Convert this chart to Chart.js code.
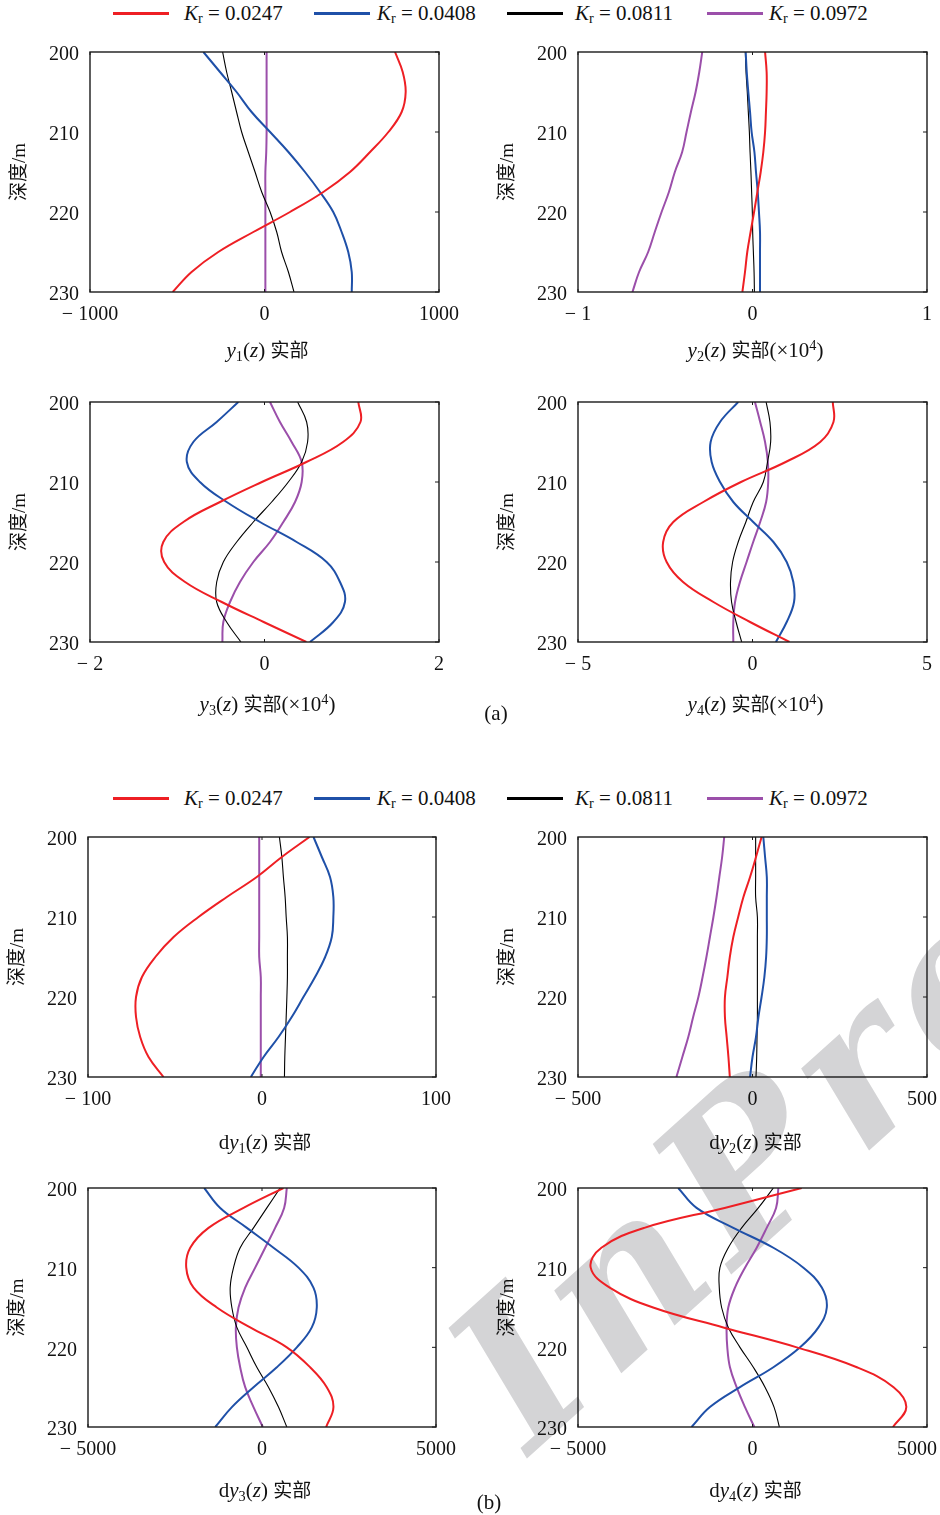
<!DOCTYPE html>
<html>
<head>
<meta charset="utf-8">
<script src="https://cdn.jsdelivr.net/npm/chart.js@4.4.1/dist/chart.umd.min.js"></script>
<style>
body { margin: 0; background: #fff; }
#page { position: relative; width: 940px; height: 1515px; overflow: hidden; font-family: "Liberation Serif", serif; color: #111; }
canvas { position: absolute; z-index: 2; }
.txt { position: absolute; white-space: nowrap; font-size: 21px; transform: translate(-50%, -50%); z-index: 3; }
.txt .cjk { font-family: "Noto Sans CJK SC", sans-serif; font-size: 19px; }
.txt sub { font-size: 0.68em; vertical-align: -0.25em; }
.txt sup { font-size: 0.68em; vertical-align: 0.5em; }
.legline { position: absolute; height: 3px; z-index: 3; }
.legtxt { position: absolute; white-space: nowrap; font-size: 21px; transform: translateY(-50%); z-index: 3; }
.legtxt sub { font-size: 0.68em; vertical-align: -0.25em; font-style: normal; }
#wm { position: absolute; z-index: 1; left: 414px; top: 1326px; font: italic bold 205px "DejaVu Serif", serif; line-height: 1; color: #d4d4d6; transform-origin: 0 0; transform: rotate(-42deg); letter-spacing: 15px; }
</style>
</head>
<body>
<div id="page">
  <div id="wm">InPre</div>
</div>
<script>
"use strict";

const depths = [200, 202.5, 205, 207.5, 210, 212.5, 215, 217.5, 220, 222.5, 225, 227.5, 230];
const krLabels = ["0.0247", "0.0408", "0.0811", "0.0972"];
const krColors = ["#ee1f24", "#1f50a8", "#000000", "#9b4faa"];
const krWidths = [2, 2, 1.1, 2];

// y1(z) real part
const y1Red    = [748, 792, 809, 786, 710, 605, 490, 337, 146, -64, -265, -418, -526];
const y1Blue   = [-350, -255, -160, -74, 32, 137, 232, 318, 394, 442, 480, 500, 500];
const y1Black  = [-240, -217, -188, -160, -131, -93, -54, -16, 32, 70, 98, 137, 169];
const y1Purple = [12, 12, 12, 12, 12, 10, 5, 5, 5, 5, 5, 5, 5];

// y2(z) real part (x1e4)
const y2Red    = [0.072, 0.081, 0.081, 0.077, 0.072, 0.062, 0.047, 0.028, 0.009, -0.011, -0.030, -0.043, -0.058];
const y2Blue   = [-0.039, -0.033, -0.024, -0.014, -0.005, 0.011, 0.020, 0.030, 0.037, 0.043, 0.043, 0.043, 0.043];
const y2Black  = [-0.041, -0.037, -0.030, -0.024, -0.018, -0.014, -0.009, -0.005, -0.001, 0.001, 0.005, 0.009, 0.011];
const y2Purple = [-0.288, -0.305, -0.326, -0.353, -0.378, -0.403, -0.445, -0.479, -0.521, -0.560, -0.598, -0.650, -0.688];

// y3(z) real part (x1e4)
const y3Red    = [1.075, 1.10, 0.90, 0.48, -0.03, -0.51, -0.93, -1.16, -1.15, -0.91, -0.49, -0.01, 0.48];
const y3Blue   = [-0.30, -0.548, -0.816, -0.89, -0.74, -0.434, -0.052, 0.368, 0.712, 0.865, 0.922, 0.789, 0.521];
const y3Black  = [0.38, 0.483, 0.494, 0.426, 0.273, 0.082, -0.128, -0.319, -0.472, -0.548, -0.548, -0.434, -0.27];
const y3Purple = [0.063, 0.177, 0.311, 0.426, 0.426, 0.35, 0.216, 0.063, -0.128, -0.281, -0.395, -0.472, -0.483];

// y4(z) real part (x1e4)
const y4Red    = [2.30, 2.32, 1.94, 0.95, -0.33, -1.41, -2.27, -2.56, -2.46, -1.99, -1.12, -0.07, 1.06];
const y4Blue   = [-0.41, -0.93, -1.20, -1.17, -0.93, -0.55, 0.02, 0.60, 0.98, 1.17, 1.19, 0.98, 0.67];
const y4Black  = [0.39, 0.50, 0.52, 0.43, 0.31, 0.02, -0.19, -0.41, -0.57, -0.63, -0.60, -0.47, -0.31];
const y4Purple = [0.07, 0.22, 0.36, 0.44, 0.45, 0.39, 0.22, 0.02, -0.17, -0.36, -0.50, -0.55, -0.55];

// dy1(z) real part
const dy1Red    = [27.3, 11.4, -3.0, -20.2, -36.5, -50.8, -61.3, -69.0, -72.4, -72.4, -70, -65.2, -56.6];
const dy1Blue   = [29.6, 34.4, 39.1, 41.0, 41.0, 40.1, 36.3, 30.5, 23.8, 17.1, 9.5, 0.9, -6.4];
const dy1Black  = [10.0, 11.4, 12.3, 13.3, 13.9, 14.6, 14.6, 14.6, 14.3, 13.9, 13.5, 13.1, 12.9];
const dy1Purple = [-1.6, -1.6, -1.6, -1.6, -1.6, -1.6, -1.6, -0.7, -0.7, -0.7, -0.7, -0.7, -0.7];

// dy2(z) real part
const dy2Red    = [26, 10, -7, -26, -41, -55, -65, -72, -79, -79, -74, -69, -65];
const dy2Blue   = [31, 36, 41, 41, 41, 41, 39, 34, 26, 17, 10, 0, -7];
const dy2Black  = [9, 9, 9, 9, 14, 14, 14, 14, 14, 14, 13, 12, 10];
const dy2Purple = [-81, -87, -95, -103, -112, -122, -132, -143, -155, -170, -184, -201, -218];

// dy3(z) real part
const dy3Red    = [617, -531, -1536, -2062, -2177, -1967, -1297, -340, 713, 1383, 1861, 2053, 1842];
const dy3Blue   = [-1660, -1201, -435, 330, 1048, 1478, 1574, 1431, 1000, 426, -244, -866, -1344];
const dy3Black  = [522, 139, -244, -627, -818, -914, -866, -722, -435, -148, 187, 474, 713];
const dy3Purple = [713, 636, 378, 91, -196, -483, -675, -751, -722, -627, -483, -244, 24];

// dy4(z) real part
const dy4Red    = [1411, -800, -3100, -4330, -4636, -4091, -2847, -837, 1268, 2990, 4043, 4407, 4024];
const dy4Blue   = [-2129, -1603, -550, 598, 1459, 1986, 2129, 1890, 1364, 598, -359, -1220, -1746];
const dy4Black  = [598, 167, -311, -694, -933, -952, -885, -694, -359, 24, 359, 617, 770];
const dy4Purple = [742, 675, 407, 120, -215, -502, -694, -742, -722, -646, -455, -215, 53];

const xLimits = [1000, 1, 2, 5, 100, 500, 5000, 5000];

const panels = [
    { series: [y1Red, y1Blue, y1Black, y1Purple], left: 90, top: 52, w: 349, h: 240, ty: 350,
      title: '<i>y</i><sub>1</sub>(<i>z</i>) <span class="cjk">实部</span>' },
    { series: [y2Red, y2Blue, y2Black, y2Purple], left: 578, top: 52, w: 349, h: 240, ty: 350,
      title: '<i>y</i><sub>2</sub>(<i>z</i>) <span class="cjk">实部</span>(×10<sup>4</sup>)' },
    { series: [y3Red, y3Blue, y3Black, y3Purple], left: 90, top: 402, w: 349, h: 240, ty: 704,
      title: '<i>y</i><sub>3</sub>(<i>z</i>) <span class="cjk">实部</span>(×10<sup>4</sup>)' },
    { series: [y4Red, y4Blue, y4Black, y4Purple], left: 578, top: 402, w: 349, h: 240, ty: 704,
      title: '<i>y</i><sub>4</sub>(<i>z</i>) <span class="cjk">实部</span>(×10<sup>4</sup>)' },
    { series: [dy1Red, dy1Blue, dy1Black, dy1Purple], left: 88, top: 837, w: 348, h: 240, ty: 1142,
      title: 'd<i>y</i><sub>1</sub>(<i>z</i>) <span class="cjk">实部</span>' },
    { series: [dy2Red, dy2Blue, dy2Black, dy2Purple], left: 578, top: 837, w: 349, h: 240, ty: 1142,
      title: 'd<i>y</i><sub>2</sub>(<i>z</i>) <span class="cjk">实部</span>' },
    { series: [dy3Red, dy3Blue, dy3Black, dy3Purple], left: 88, top: 1188, w: 348, h: 239, ty: 1490,
      title: 'd<i>y</i><sub>3</sub>(<i>z</i>) <span class="cjk">实部</span>' },
    { series: [dy4Red, dy4Blue, dy4Black, dy4Purple], left: 578, top: 1188, w: 349, h: 239, ty: 1490,
      title: 'd<i>y</i><sub>4</sub>(<i>z</i>) <span class="cjk">实部</span>' }
];

const page = document.getElementById("page");

// box round the plot area, with small inward ticks on top, bottom and right
const framePlugin = {
    id: "frame",
    afterDraw(chart) {
        const { ctx, chartArea: a } = chart;
        const x = chart.scales.x, y = chart.scales.y;
        ctx.save();
        ctx.strokeStyle = "#1a1a1a";
        ctx.lineWidth = 1.4;
        ctx.strokeRect(a.left, a.top, a.right - a.left, a.bottom - a.top);
        ctx.lineWidth = 1;
        ctx.beginPath();
        y.ticks.forEach(t => {
            const py = y.getPixelForValue(t.value);
            ctx.moveTo(a.right, py); ctx.lineTo(a.right - 4, py);
        });
        x.ticks.forEach(t => {
            const px = x.getPixelForValue(t.value);
            ctx.moveTo(px, a.top); ctx.lineTo(px, a.top + 3);
            ctx.moveTo(px, a.bottom); ctx.lineTo(px, a.bottom - 3);
        });
        ctx.stroke();
        ctx.restore();
    }
};

function fmt(v) {
    return v < 0 ? "\u2212 " + Math.abs(v) : String(v);
}

function addText(html, x, y, cls) {
    const d = document.createElement("div");
    d.className = cls || "txt";
    d.style.left = x + "px";
    d.style.top = y + "px";
    d.innerHTML = html;
    page.appendChild(d);
}

panels.forEach((p, i) => {
    const padTop = 15, padRight = 22, axisW = 90, axisH = 75;
    const canvas = document.createElement("canvas");
    canvas.width = axisW + p.w + padRight;
    canvas.height = padTop + p.h + axisH;
    canvas.style.left = (p.left - axisW) + "px";
    canvas.style.top = (p.top - padTop) + "px";
    page.appendChild(canvas);

    const lim = xLimits[i];
    // right column: last label pushed left so it stays inside the page
    const tail = i % 2 === 1 ? (lim >= 1000 ? "    " : lim >= 100 ? "  " : "") : "";
    new Chart(canvas.getContext("2d"), {
        type: "scatter",
        data: {
            datasets: p.series.map((vals, k) => ({
                label: "Kr = " + krLabels[k],
                data: vals.map((v, j) => ({ x: v, y: depths[j] })),
                showLine: true,
                borderColor: krColors[k],
                borderWidth: krWidths[k],
                pointRadius: 0,
                tension: 0.4,
                fill: false
            }))
        },
        options: {
            responsive: false,
            animation: false,
            layout: { padding: { top: padTop, right: padRight, bottom: 0, left: 0 } },
            plugins: { legend: { display: false }, tooltip: { enabled: false } },
            scales: {
                x: {
                    type: "linear",
                    min: -lim, max: lim,
                    grid: { display: false, drawTicks: false },
                    border: { display: false },
                    ticks: {
                        stepSize: lim, padding: 11, color: "#111",
                        font: { family: "Liberation Serif", size: 20 },
                        callback: v => v === lim ? fmt(v) + tail : fmt(v)
                    },
                    afterFit: s => { s.height = axisH; s.paddingLeft = 0; s.paddingRight = 0; }
                },
                y: {
                    type: "linear",
                    reverse: true,
                    min: 200, max: 230,
                    grid: { display: false, drawTicks: false },
                    border: { display: false },
                    ticks: {
                        stepSize: 10, padding: 11, labelOffset: 3, color: "#111",
                        font: { family: "Liberation Serif", size: 20 }
                    },
                    title: {
                        display: true, text: "深度/m", color: "#111",
                        font: { family: "'Liberation Serif', 'Noto Sans CJK SC'", size: 19 },
                        padding: { top: 9, bottom: 0 }
                    },
                    afterFit: s => { s.width = axisW; s.paddingTop = 0; s.paddingBottom = 0; }
                }
            }
        },
        plugins: [framePlugin]
    });

    addText(p.title, p.left + p.w / 2 + 3, p.ty);
});

// legends for (a) and (b)
const legendRows = [14, 799];
const legendLineX = [113, 314, 507, 707];
const legendTextX = [184, 377, 575, 769];
legendRows.forEach(ly => {
    krLabels.forEach((lab, k) => {
        const ln = document.createElement("div");
        ln.className = "legline";
        ln.style.left = legendLineX[k] + "px";
        ln.style.top = (ly - 2) + "px";
        ln.style.width = "56px";
        ln.style.background = krColors[k];
        page.appendChild(ln);
        addText("<i>K</i><sub>r</sub>&#8197;=&#8197;" + lab, legendTextX[k], ly, "legtxt");
    });
});

addText("(a)", 496, 713);
addText("(b)", 489, 1502);
</script>
</body>
</html>
